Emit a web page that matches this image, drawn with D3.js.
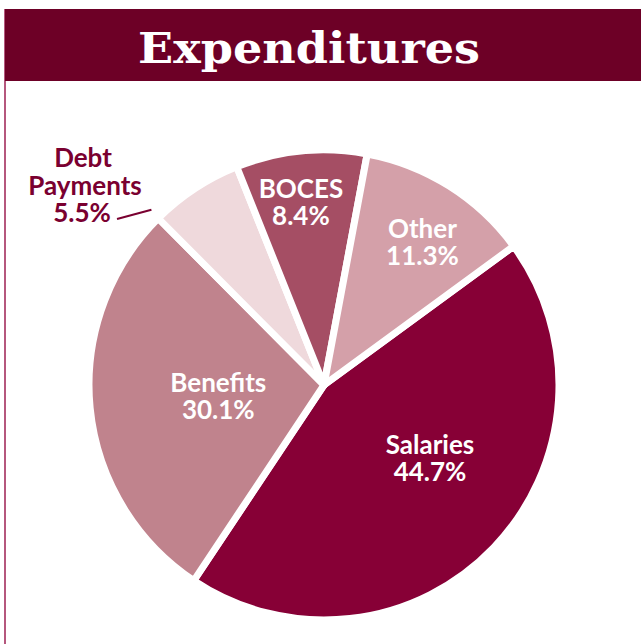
<!DOCTYPE html>
<html><head><meta charset="utf-8">
<script src="https://cdn.jsdelivr.net/npm/d3@7"></script>
<style>body{margin:0;background:#fff}</style>
</head><body>
<svg id="c" width="641" height="644"></svg>
<script>
const title = "Expenditures";
const categories = ["Salaries","Benefits","Debt Payments","BOCES","Other"];
const labelLines = [["Salaries"],["Benefits"],["Debt","Payments"],["BOCES"],["Other"]];
const values = [44.7, 30.1, 5.5, 8.4, 11.3];          // printed percentages
const drawnShare = [44.4, 28.2, 6.4, 9.0, 12.0];       // slice sizes as drawn in the picture
const colors = ["#870036","#c0838d","#efd9dc","#a54e64","#d4a0a9"];

const svg = d3.select("#c");
// frame
svg.append("rect").attr("x",4).attr("y",9).attr("width",2).attr("height",635).attr("fill","#b5577d");
svg.append("rect").attr("x",5).attr("y",9).attr("width",636).attr("height",72).attr("fill","#6d0026");
svg.append("text").attr("x",309).attr("y",63).attr("text-anchor","middle")
  .attr("font-family","DejaVu Serif").attr("font-weight","bold").attr("font-size",43)
  .attr("textLength",342).attr("lengthAdjust","spacingAndGlyphs")
  .attr("fill","#fff").text(title);

const cx=324, cy=385, R=235;
const start = 53.8*Math.PI/180;
const pie = d3.pie().sort(null).value(d=>d).startAngle(start).endAngle(start+2*Math.PI);
const arcs = pie(drawnShare);
const arc = d3.arc().innerRadius(0).outerRadius(R);
const g = svg.append("g").attr("transform",`translate(${cx},${cy})`);
g.selectAll("path").data(arcs).join("path")
  .attr("d",arc).attr("fill",(d,i)=>colors[i])
  .attr("stroke","#fff").attr("stroke-width",7).attr("stroke-linejoin","round");

// label placement: [radius, angle adjustment in degrees]
const labelPos = [[127,-10.3],[106,1.4],[null,0],[187,-1.5],[176,1.8]];
const fmt = v=>v.toFixed(1)+"%";
arcs.forEach((d,i)=>{
  if(i===2) return;
  const a = (d.startAngle+d.endAngle)/2 + labelPos[i][1]*Math.PI/180;
  const [x,y] = d3.pointRadial(a, labelPos[i][0]);
  const t = g.append("text").attr("text-anchor","middle").attr("fill","#fff")
    .attr("font-family","Lato").attr("font-weight","bold").attr("font-size",26);
  t.append("tspan").attr("x",x).attr("y",y-1).text(labelLines[i][0]);
  t.append("tspan").attr("x",x).attr("y",y+26).text(fmt(values[i]));
});
// Debt payments outside label
const dd = arcs[2];
const t2 = svg.append("text").attr("text-anchor","middle").attr("fill","#7a0030")
  .attr("font-family","Lato").attr("font-weight","bold").attr("font-size",26);
t2.append("tspan").attr("x",83).attr("y",167).text(labelLines[2][0]);
t2.append("tspan").attr("x",85).attr("y",195).text(labelLines[2][1]);
t2.append("tspan").attr("x",82).attr("y",222).text(fmt(values[2]));
const [lx,ly] = d3.pointRadial(dd.startAngle + 0.005, R+11);
svg.append("line").attr("x1",117).attr("y1",219).attr("x2",cx+lx).attr("y2",cy+ly)
  .attr("stroke","#7a0030").attr("stroke-width",2);
</script>
</body></html>
